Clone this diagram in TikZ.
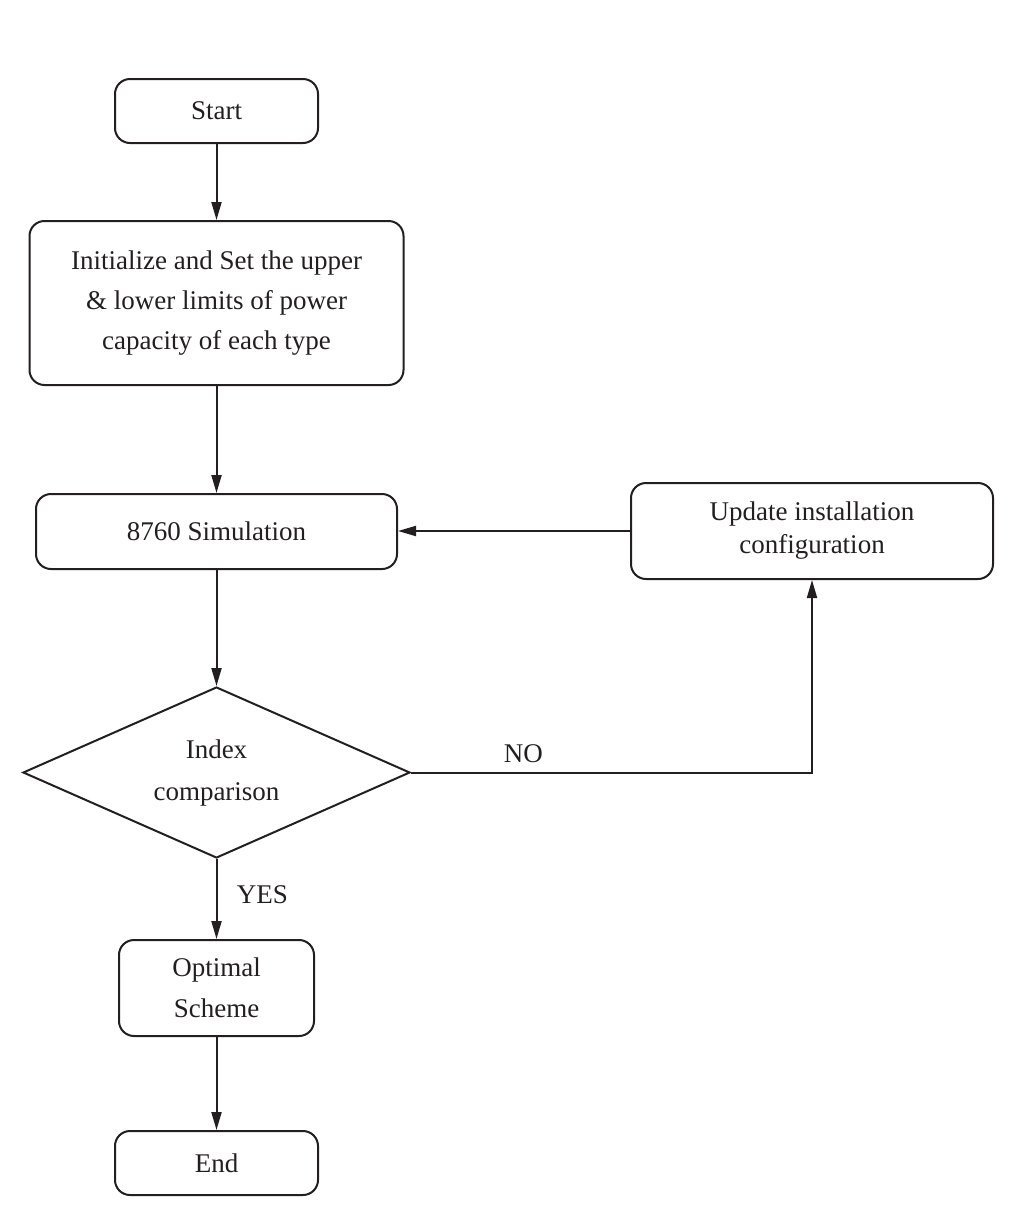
\documentclass[tikz,border=0pt]{standalone}
\usepackage{fontspec}
\setmainfont{Liberation Serif}
\usetikzlibrary{arrows.meta,shapes.geometric}
\definecolor{ink}{HTML}{231F20}
\begin{document}
\begin{tikzpicture}[x=1pt,y=-1pt,
  every node/.style={font=\fontsize{27}{40}\selectfont, text=ink},
  rbox/.style={draw=ink, line width=2pt, rounded corners=15pt, align=center, inner sep=0pt},
  dbox/.style={draw=ink, line width=2pt, diamond, aspect=2.26, align=center, inner sep=0pt},
  conn/.style={draw=ink, line width=2pt, -{Triangle[length=18pt,width=10pt]}}
]
\useasboundingbox (0,0) rectangle (1013,1208);
\node[rbox, minimum width=203pt, minimum height=64pt] (start) at (216.5,111) {Start};
\node[rbox, minimum width=374pt, minimum height=164pt] (init) at (216.5,303) {Initialize and Set the upper\\\& lower limits of power\\capacity of each type};
\node[rbox, minimum width=361pt, minimum height=75pt] (sim) at (216.5,531.5) {8760 Simulation};
\node[rbox, minimum width=362pt, minimum height=96pt, font=\fontsize{27}{33}\selectfont] (upd) at (812,531) {Update installation\\configuration};
\node[dbox, minimum width=387pt, minimum height=171pt, font=\fontsize{27}{42}\selectfont] (dia) at (216.5,772.5) {Index\\comparison};
\node[rbox, minimum width=195pt, minimum height=96pt, font=\fontsize{27}{41}\selectfont] (opt) at (216.5,988) {Optimal\\Scheme};
\node[rbox, minimum width=203pt, minimum height=64pt] (end) at (216.5,1163) {End};
\draw[conn] (start) -- (init);
\draw[conn] (init) -- (sim);
\draw[conn] (sim) -- (dia);
\draw[conn] (dia) -- node[right=16pt, pos=0.45] (yes) {YES} (opt);
\draw[conn] (opt) -- (end);
\draw[conn] (upd.west) -- (sim.east |- upd.west);
\draw[conn] (dia.east) -| node[pos=0.14, above=5pt] (no) {NO} (upd.south);
\end{tikzpicture}
\end{document}
